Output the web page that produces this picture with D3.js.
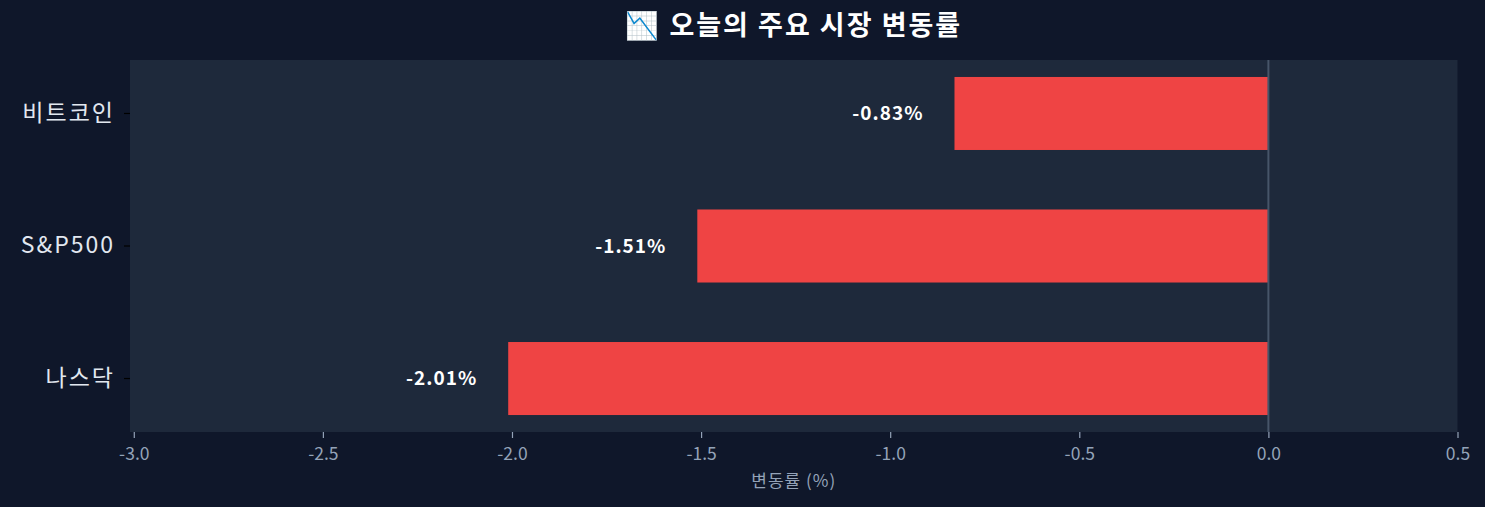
<!DOCTYPE html>
<html>
<head>
<meta charset="utf-8">
<script src="https://cdn.jsdelivr.net/npm/d3@7"></script>
<style>
  body { margin: 0; background: #0f172a; }
</style>
</head>
<body>
<script>
// data
var markets = ["비트코인", "S&P500", "나스닥"];
var changes = [-0.83, -1.51, -2.01];
var xTicks = [-3.0, -2.5, -2.0, -1.5, -1.0, -0.5, 0.0, 0.5];

var width = 1485, height = 507;
var padLeft = 130, padRight = 1457.5, padTop = 60, padBottom = 432;
var font = "'Noto Sans CJK KR', 'Noto Sans', sans-serif";

var svg = d3.select("body")
    .append("svg")
    .attr("width", width)
    .attr("height", height);

svg.append("rect")
    .attr("width", width)
    .attr("height", height)
    .attr("fill", "#0f172a");

var x = d3.scaleLinear()
    .domain([-3.01, 0.5])
    .range([padLeft, padRight]);

var y = d3.scaleBand()
    .domain(markets)
    .range([padTop, padBottom])
    .paddingInner(0.449)
    .paddingOuter(0.128);

// plot panel
svg.append("rect")
    .attr("x", padLeft)
    .attr("y", padTop)
    .attr("width", padRight - padLeft)
    .attr("height", padBottom - padTop)
    .attr("fill", "#1e293b");

// bars
svg.selectAll("rect.bar")
    .data(changes).enter()
    .append("rect")
    .attr("class", "bar")
    .attr("x", function(d){ return x(Math.min(d, 0)); })
    .attr("y", function(d, i){ return y(markets[i]); })
    .attr("width", function(d){ return Math.abs(x(d) - x(0)); })
    .attr("height", y.bandwidth())
    .attr("fill", "#ef4444");

// zero line
svg.append("line")
    .attr("x1", x(0))
    .attr("x2", x(0))
    .attr("y1", padTop)
    .attr("y2", padBottom)
    .attr("stroke", "#475569")
    .attr("stroke-width", 2);

// value labels
svg.selectAll("text.value-label")
    .data(changes).enter()
    .append("text")
    .attr("class", "value-label")
    .text(function(d){ return d.toFixed(2) + "%"; })
    .attr("x", function(d){ return x(d) - 31; })
    .attr("y", function(d, i){ return y(markets[i]) + y.bandwidth() / 2; })
    .attr("dy", "0.35em")
    .attr("text-anchor", "end")
    .attr("font-family", font)
    .attr("font-weight", "bold")
    .attr("font-size", "19px")
    .attr("letter-spacing", "1px")
    .attr("fill", "#ffffff");

// x axis
var xAxis = svg.append("g")
    .attr("transform", "translate(0," + padBottom + ")")
    .call(d3.axisBottom(x).tickValues(xTicks)
        .tickFormat(function(d){ return d.toFixed(1); })
        .tickSize(6).tickPadding(10));
xAxis.select(".domain").remove();
xAxis.selectAll("line").attr("stroke", "#94a3b8").attr("stroke-width", 1.2);
xAxis.selectAll("text")
    .attr("fill", "#94a3b8")
    .attr("font-family", font)
    .attr("font-size", "17.5px");

// y axis
var yAxis = svg.append("g")
    .attr("transform", "translate(" + padLeft + ",0)")
    .call(d3.axisLeft(y).tickSize(6).tickPadding(9));
yAxis.select(".domain").remove();
yAxis.selectAll("line").attr("stroke", "#000000").attr("stroke-width", 1.2);
yAxis.selectAll("text")
    .attr("fill", "#e2e8f0")
    .attr("font-family", font)
    .attr("font-size", "23px")
    .attr("letter-spacing", "2px");

// axis title
svg.append("text")
    .attr("x", (padLeft + padRight) / 2)
    .attr("y", 487)
    .text("변동률 (%)")
    .attr("text-anchor", "middle")
    .attr("font-family", font)
    .attr("font-size", "17px")
    .attr("letter-spacing", "1px")
    .attr("fill", "#94a3b8");

// title
svg.append("text")
    .attr("x", (padLeft + padRight) / 2)
    .attr("y", 35)
    .text("📉 오늘의 주요 시장 변동률")
    .attr("text-anchor", "middle")
    .attr("font-family", font)
    .attr("font-weight", "bold")
    .attr("font-size", "27px")
    .attr("letter-spacing", "2px")
    .attr("fill", "#ffffff");
</script>
</body>
</html>
